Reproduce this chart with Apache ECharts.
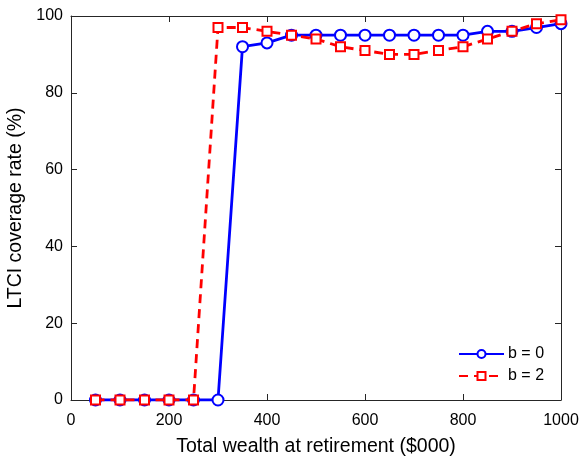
<!DOCTYPE html>
<html>
<head>
<meta charset="utf-8">
<script src="https://cdn.jsdelivr.net/npm/echarts@6/dist/echarts.min.js"></script>
<style>
  html, body { margin: 0; padding: 0; background: #fff; }
  #chart { width: 580px; height: 458px; }
</style>
</head>
<body>
<div id="chart"></div>
<script>
// 数据
var wealth = [50, 100, 150, 200, 250, 300, 350, 400, 450, 500, 550, 600, 650, 700, 750, 800, 850, 900, 950, 1000];
var b0 = [0, 0, 0, 0, 0, 0, 92, 93, 95, 95, 95, 95, 95, 95, 95, 95, 96, 96, 97, 98];
var b2 = [0, 0, 0, 0, 0, 97, 97, 96, 95, 94, 92, 91, 90, 90, 91, 92, 94, 96, 98, 99];
var xTicks = [0, 200, 400, 600, 800, 1000];
var yTicks = [0, 20, 40, 60, 80, 100];

function pairs(xs, ys) {
  return xs.map(function (x, i) { return [x, ys[i]]; });
}

var font = 'Liberation Sans, Arial, sans-serif';

// 坐标轴（每次返回新对象）
function makeAxis(min, max, step, pos, showLabel, ticks) {
  return {
    type: 'value', min: min, max: max, interval: step, position: pos,
    axisLine: { show: true, onZero: false, lineStyle: { color: '#262626', width: 1 } },
    axisTick: { show: true, inside: true, length: 6, lineStyle: { color: '#262626', width: 1 } },
    splitLine: { show: false },
    axisLabel: {
      show: showLabel, inside: false,
      fontFamily: font, fontSize: 16, color: '#000',
      margin: pos === 'bottom' ? 13 : 8,
      formatter: function (v) { return ticks.indexOf(v) >= 0 ? String(v) : ''; }
    }
  };
}

var myChart = echarts.init(document.getElementById('chart'));

var xBottom = makeAxis(0, 1000, 200, 'bottom', true, xTicks);
xBottom.name = 'Total wealth at retirement ($000)';
xBottom.nameLocation = 'middle';
xBottom.nameGap = 37;
xBottom.nameTextStyle = { fontFamily: font, fontSize: 19.5, color: '#000' };

var yLeft = makeAxis(0, 100, 20, 'left', true, yTicks);
yLeft.name = 'LTCI coverage rate (%)';
yLeft.nameLocation = 'middle';
yLeft.nameGap = 38;
yLeft.nameTextStyle = { fontFamily: font, fontSize: 19.5, color: '#000' };

var option = {
  animation: false,
  backgroundColor: '#fff',
  grid: { left: 71, right: 19, top: 16, bottom: 58, outerBoundsMode: 'none', containLabel: false },
  legend: {
    left: 458,
    top: 346,
    orient: 'vertical',
    padding: 0,
    itemWidth: 45,
    itemHeight: 10,
    itemGap: 6,
    textStyle: { fontFamily: font, fontSize: 16, color: '#000', padding: [0, 0, 0, -1] },
    data: ['b = 0', 'b = 2']
  },
  xAxis: [xBottom, makeAxis(0, 1000, 200, 'top', false, xTicks)],
  yAxis: [yLeft, makeAxis(0, 100, 20, 'right', false, yTicks)],
  series: [
    {
      name: 'b = 0',
      type: 'line',
      data: pairs(wealth, b0),
      color: '#0000ff',
      symbol: 'emptyCircle',
      symbolSize: 11,
      lineStyle: { width: 2.8, color: '#0000ff' },
      itemStyle: { color: '#0000ff', borderWidth: 2.2 },
      z: 2
    },
    {
      name: 'b = 2',
      type: 'line',
      data: pairs(wealth, b2),
      color: '#ff0000',
      symbol: 'emptyRect',
      symbolSize: 9,
      lineStyle: { width: 2.8, type: [9, 6], color: '#ff0000' },
      itemStyle: { color: '#ff0000', borderWidth: 2.8 },
      z: 3
    }
  ]
};

myChart.clear();
myChart.setOption(option);
</script>
</body>
</html>
